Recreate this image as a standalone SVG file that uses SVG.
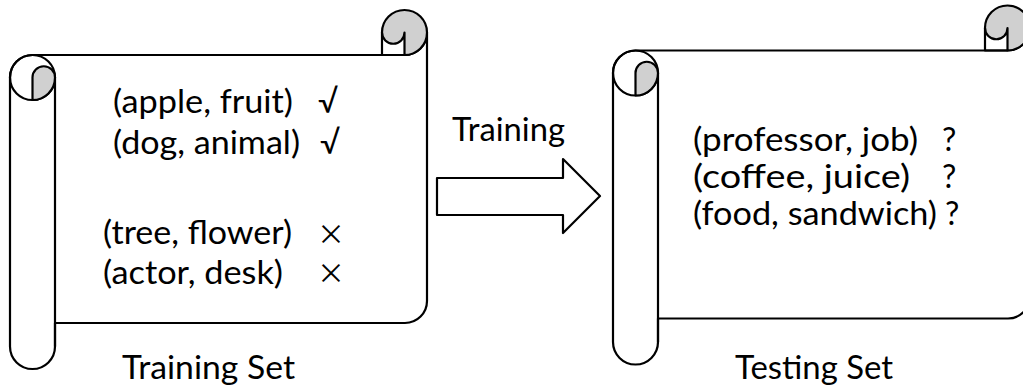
<svg xmlns="http://www.w3.org/2000/svg" xmlns:xlink="http://www.w3.org/1999/xlink" width="1023" height="387" viewBox="0 0 1023 387">
<style>
.ln{fill:none;stroke:#000;stroke-width:2.2;stroke-linejoin:round}
.body{fill:#fff;stroke:#000;stroke-width:2.2;stroke-linejoin:round}
.grey{fill:#d0d0d0;stroke:#000;stroke-width:2.2;stroke-linejoin:round}
.t{font-family:Lato,"Open Sans",sans-serif;font-size:32px;fill:#000}
.lab{font-family:Lato,"Open Sans",sans-serif;font-size:32px;fill:#000}
.x{font-family:"Noto Sans CJK SC","DejaVu Sans",sans-serif;font-weight:400;font-size:28px;fill:#000}
</style>
<defs>
<g id="scroll">
<path class="body" d="M32.5,55 H404.5 A22.5,22.5 0 0 0 427,32.5 V301 A22,22 0 0 1 405,323 H55 V346.5 A22.5,22.5 0 0 1 10,346.5 V77.5 A22.5,22.5 0 0 1 32.5,55 Z"/>
<path class="grey" d="M382,32.5 A22.5,22.5 0 1 1 404.5,55 V32.5 A11.25,11.25 0 0 1 382,32.5 Z"/>
<path class="ln" d="M382,32.5 V55 H404.5"/>
<circle class="ln" cx="32.5" cy="77.5" r="22.5"/>
<path class="ln" d="M55,77.5 V346.5"/>
<path class="grey" d="M32.5,100 V77.5 A11.25,11.25 0 0 1 55,77.5 A22.5,22.5 0 0 1 32.5,100 Z"/>
</g>
</defs>
<g id="training-set">
<use xlink:href="#scroll" href="#scroll"/>
<text class="t" x="113" y="113" textLength="180" lengthAdjust="spacingAndGlyphs">(apple, fruit)</text>
<text class="t" x="318" y="113">√</text>
<text class="t" x="113" y="154" textLength="187" lengthAdjust="spacingAndGlyphs">(dog, animal)</text>
<text class="t" x="320" y="154">√</text>
<text class="t" x="103" y="244" textLength="189" lengthAdjust="spacingAndGlyphs">(tree, flower)</text>
<text class="t" x="103" y="284" textLength="180" lengthAdjust="spacingAndGlyphs">(actor, desk)</text>
<text class="x" x="331" y="245" text-anchor="middle">×</text>
<text class="x" x="331" y="284" text-anchor="middle">×</text>
<text class="lab" x="122" y="379" textLength="173" lengthAdjust="spacingAndGlyphs">Training Set</text>
</g>
<g id="connectors">
<polygon class="body" points="437,178 563,178 563,159 600,196 563,233 563,215 437,215"/>
<text class="lab" x="452" y="141" textLength="113" lengthAdjust="spacingAndGlyphs">Training</text>
</g>
<g id="testing-set">
<use xlink:href="#scroll" href="#scroll" transform="translate(603,-4.5)"/>
<text class="t" x="693" y="151" textLength="225" lengthAdjust="spacingAndGlyphs">(professor, job)</text>
<text class="t" x="942" y="151">?</text>
<text class="t" x="693" y="188" textLength="217" lengthAdjust="spacingAndGlyphs">(coffee, juice)</text>
<text class="t" x="942" y="188">?</text>
<text class="t" x="693" y="225" textLength="244" lengthAdjust="spacingAndGlyphs">(food, sandwich)</text>
<text class="t" x="945" y="225">?</text>
<text class="lab" x="735" y="379" textLength="158" lengthAdjust="spacingAndGlyphs">Testing Set</text>
</g>
</svg>
